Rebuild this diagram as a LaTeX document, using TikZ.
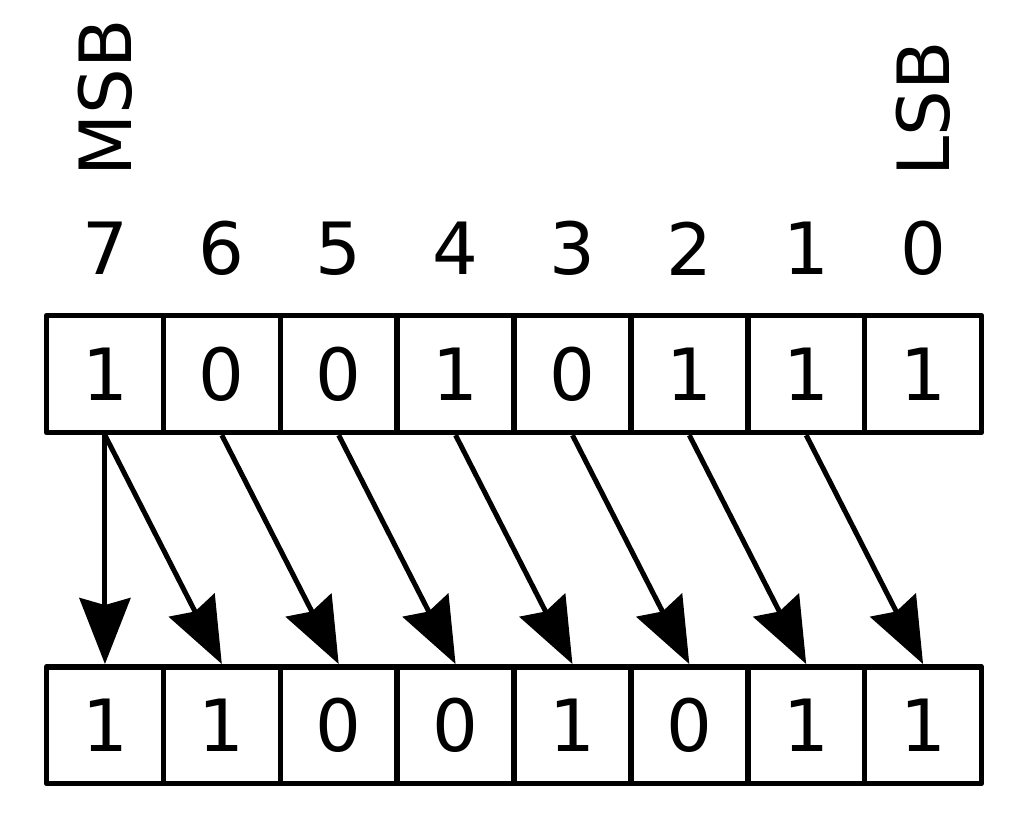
\documentclass[tikz,border=0pt]{standalone}
\usepackage{fontspec}
\setmainfont{DejaVu Sans}
\usetikzlibrary{calc}
\usetikzlibrary{arrows.meta}

\begin{document}
\begin{tikzpicture}
    \tikzset{cell/.style={draw=black, line width=0.11cm, line join=round, minimum size=2.3375cm, inner sep=0pt, font=\fontsize{41}{49}\selectfont},
             shiftarrow/.style={-{Stealth[length=1.32cm,width=1.02cm,inset=0.14cm]}, line width=0.1cm},
             bitlabel/.style={inner sep=0pt, font=\fontsize{41}{49}\selectfont}}
    \useasboundingbox (0,0) rectangle (20.48,16.4);
    
    \coordinate (top_row) at (2.099,8.92);
    \coordinate (bottom_row) at (2.099,1.895);
    \coordinate (index_row) at (2.099,11.43);
    
    %original byte
    \foreach \bit [count=\c from 0, evaluate=\c as \k using int(7-\c)] in {1,0,0,1,0,1,1,1}
        \node[cell] (t\k) at ($(top_row)+(2.3375*\c,0)$) {\bit};
    
    %shifted byte
    \foreach \bit [count=\c from 0, evaluate=\c as \k using int(7-\c)] in {1,1,0,0,1,0,1,1}
        \node[cell] (b\k) at ($(bottom_row)+(2.3375*\c,0)$) {\bit};
    
    %bit numbers
    \foreach \k [count=\c from 0] in {7,...,0}
        \node[bitlabel] (n\k) at ($(index_row)+(2.3375*\c,0)$) {\k};
    
    \node[bitlabel, rotate=90, anchor=west] (msb) at (2.099,12.86) {MSB};
    \node[bitlabel, rotate=90, anchor=west] (lsb) at (18.464,12.86) {LSB};
    
    %arrows
    \draw[shiftarrow] (t7.south) -- (b7.north);
    \foreach \k in {7,...,1}{
        \pgfmathtruncatemacro\j{\k-1}
        \draw[shiftarrow] (t\k.south) -- (b\j.north);
    }
\end{tikzpicture}
\end{document}
